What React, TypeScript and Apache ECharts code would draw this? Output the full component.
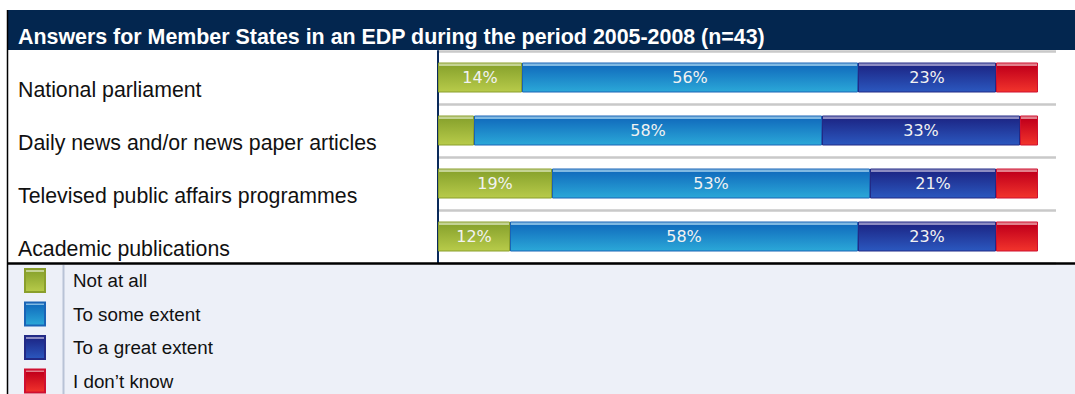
import React, { useEffect, useRef } from "react";
import * as echarts from "echarts";

const titleText = "Answers for Member States in an EDP during the period 2005-2008 (n=43)";
const categories = [
  "National parliament",
  "Daily news and/or news paper articles",
  "Televised public affairs programmes",
  "Academic publications",
];
const seriesNames = ["Not at all", "To some extent", "To a great extent", "I don\u2019t know"];
const notAtAll = [14, 6, 19, 12];
const someExtent = [56, 58, 53, 58];
const greatExtent = [23, 33, 21, 23];
const dontKnow = [7, 3, 7, 7];

const palettes = [
  { hi: "#c4d394", top: "#8aa42e", bottom: "#b8cb4a", border: "#8a9f2c" },
  { hi: "#80b9e2", top: "#126ebe", bottom: "#2ba8d8", border: "#1a64b6" },
  { hi: "#8d8cc2", top: "#1d2888", bottom: "#2b58bf", border: "#222a86" },
  { hi: "#e2808c", top: "#c2001b", bottom: "#f2342c", border: "#cf1030" },
];

function grad(p: { hi: string; top: string; bottom: string }) {
  return {
    type: "linear",
    x: 0,
    y: 0,
    x2: 0,
    y2: 1,
    colorStops: [
      { offset: 0, color: p.hi },
      { offset: 0.11, color: p.hi },
      { offset: 0.12, color: p.top },
      { offset: 1, color: p.bottom },
    ],
  };
}

export default function App() {
  const ref = useRef<HTMLDivElement>(null);
  useEffect(() => {
    if (!ref.current) return;
    const chart = echarts.init(ref.current, undefined, { renderer: "svg" });
    const values = [notAtAll, someExtent, greatExtent, dontKnow];
    const legendPads = [0, 3, 11, 14];
    chart.setOption({
      animation: false,
      graphic: [
        { type: "rect", shape: { x: 8, y: 264, width: 1067, height: 130 }, style: { fill: "#edf0f8" }, z: -10 },
        { type: "rect", shape: { x: 8, y: 10, width: 1067, height: 40 }, style: { fill: "#03264f" }, z: -5 },
        { type: "line", shape: { x1: 7.5, y1: 10, x2: 7.5, y2: 394 }, style: { stroke: "#000", lineWidth: 1.5 } },
        { type: "line", shape: { x1: 7, y1: 263.5, x2: 1075, y2: 263.5 }, style: { stroke: "#000", lineWidth: 2.5 }, z: 20 },
        { type: "line", shape: { x1: 63.5, y1: 265, x2: 63.5, y2: 394 }, style: { stroke: "#b9c3d6", lineWidth: 2 } },
        {
          type: "text",
          x: 18,
          y: 26,
          style: {
            text: titleText,
            fill: "#ffffff",
            font: "bold 21.4px 'Liberation Sans', Arial, sans-serif",
            textVerticalAlign: "top",
          },
        },
      ],
      legend: {
        orient: "vertical",
        left: 24,
        top: 268,
        itemWidth: 20,
        itemHeight: 23,
        itemGap: 8.5,
        padding: 0,
        icon: "rect",
        selectedMode: false,
        textStyle: { fontFamily: "'Liberation Sans', Arial, sans-serif", fontSize: 18.8, color: "#111" },
        data: seriesNames.map((n, i) => ({
          name: n,
          textStyle: { padding: [legendPads[i], 0, 0, 23] },
        })),
      },
      grid: { left: 438, right: 19, top: 51, height: 212 },
      xAxis: {
        type: "value",
        min: 0,
        max: 103,
        show: false,
        splitLine: { show: false },
      },
      yAxis: {
        type: "category",
        data: categories,
        inverse: true,
        axisLine: { show: true, lineStyle: { color: "#0a2a5a", width: 2 } },
        axisTick: { show: false },
        splitLine: { show: true, lineStyle: { color: "#c9c9c9", width: 2.5 } },
        axisLabel: {
          align: "left",
          margin: 420,
          fontSize: 21.3,
          fontFamily: "'Liberation Sans', Arial, sans-serif",
          color: "#111",
          verticalAlign: "top",
          lineHeight: 25,
        },
      },
      series: values.map((vals, i) => ({
        name: seriesNames[i],
        type: "bar",
        stack: "total",
        barWidth: 30,
        data: vals,
        itemStyle: {
          color: grad(palettes[i]),
          borderColor: palettes[i].border,
          borderWidth: 1,
        },
        label: {
          show: true,
          position: "inside",
          color: "#f2f2f2",
          fontSize: 16,
          fontFamily: "'DejaVu Sans', sans-serif",
          formatter: (p: any) => (p.value >= 10 ? p.value + "%" : ""),
        },
      })),
    });
    return () => chart.dispose();
  }, []);
  return (
    <div
      ref={ref}
      style={{ position: "absolute", left: 0, top: 0, width: 1075, height: 394 }}
    />
  );
}
